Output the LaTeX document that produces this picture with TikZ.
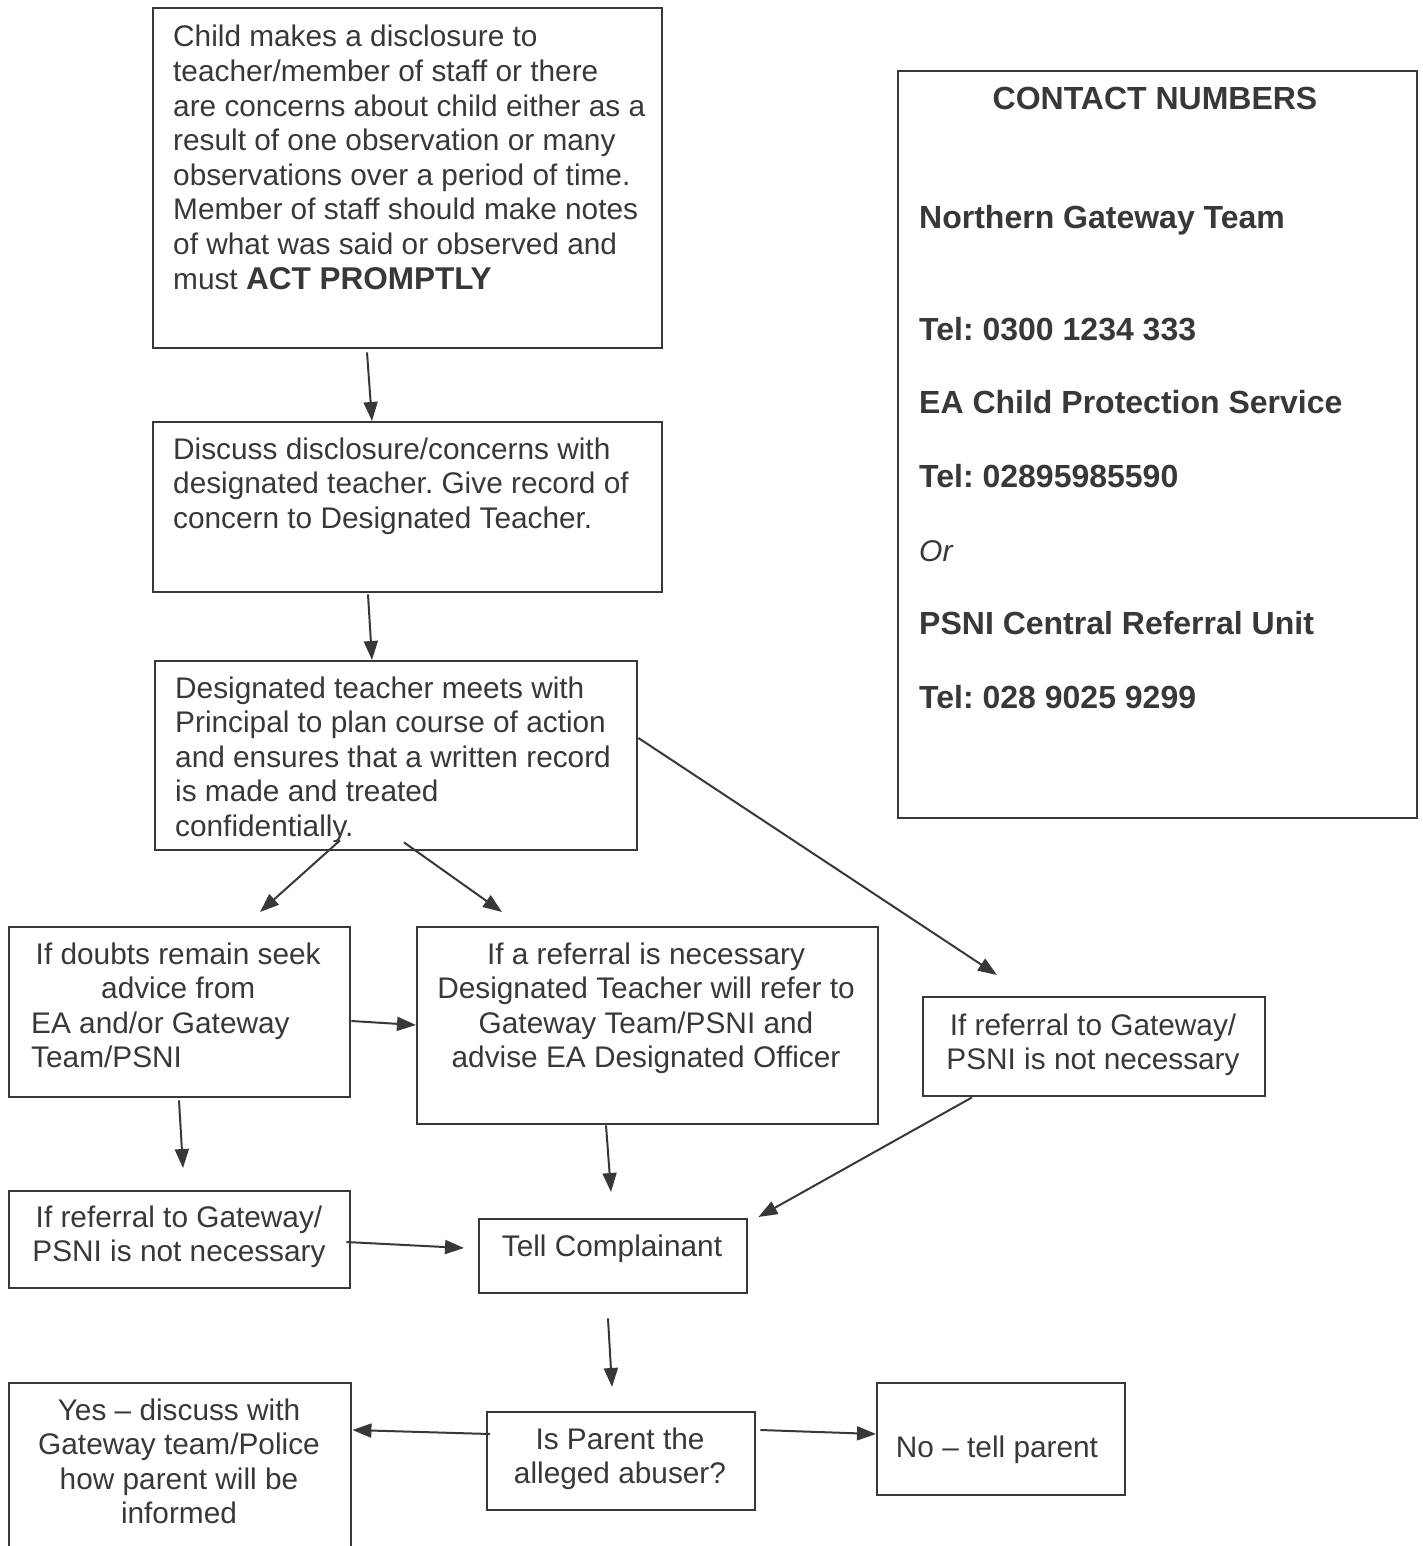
\documentclass[tikz,border=0pt]{standalone}
\usepackage{fontspec}
\setmainfont{Liberation Sans}
\usetikzlibrary{arrows.meta,calc}
\definecolor{ink}{HTML}{383838}
\frenchspacing
\tikzset{
  box/.style={draw=ink, line width=2.4pt, rectangle, inner sep=0pt, anchor=north west},
  txt/.style={inner sep=0pt, text=ink, font=\fontsize{29.8}{34.6}\selectfont\frenchspacing},
  cn/.style={inner sep=0pt, text=ink, anchor=base west, font=\fontsize{32}{36}\selectfont\bfseries\frenchspacing},
  conn/.style={draw=ink, line width=2pt, -{Triangle[length=19pt,width=14pt]}}
}
\newcommand{\lft}[2]{\parbox[t]{#1pt}{\raggedright #2}}
\newcommand{\ctr}[2]{\parbox[t]{#1pt}{\centering #2}}
\begin{document}
\begin{tikzpicture}[x=1pt,y=-1pt]
\useasboundingbox (0,0) rectangle (1422,1546);
% boxes
\node[box, minimum width=509, minimum height=340] (A) at (152,7) {};
\node[box, minimum width=509, minimum height=170] (B) at (152,421) {};
\node[box, minimum width=482, minimum height=189] (C) at (154,660) {};
\node[box, minimum width=341, minimum height=170] (D) at (8,926) {};
\node[box, minimum width=461, minimum height=197] (E) at (416,926) {};
\node[box, minimum width=342, minimum height=99] (F) at (922,996) {};
\node[box, minimum width=341, minimum height=97] (G) at (8,1190) {};
\node[box, minimum width=268, minimum height=74] (H) at (478,1218) {};
\node[box, minimum width=342, minimum height=200] (I) at (8,1382) {};
\node[box, minimum width=268, minimum height=98] (J) at (486,1411) {};
\node[box, minimum width=248, minimum height=112] (K) at (876,1382) {};
\node[box, minimum width=519, minimum height=747] (CN) at (897,70) {};
% texts
\node[txt, anchor=base west] (tA) at (173,47) {\lft{485}{Child makes a disclosure to\\
teacher/member of staff or there\\
are concerns about child either as a\\
result of one observation or many\\
observations over a period of time.\\
Member of staff should make notes\\
of what was said or observed and\\
must {\fontsize{31.5}{34.6}\selectfont\bfseries ACT PROMPTLY}}};
\node[txt, anchor=base west] (tB) at (173,459) {\lft{485}{Discuss disclosure/concerns with\\
designated teacher. Give record of\\
concern to Designated Teacher.}};
\node[txt, anchor=base west] (tC) at (175,698) {\lft{460}{Designated teacher meets with\\
Principal to plan course of action\\
and ensures that a written record\\
is made and treated\\
confidentially.}};
\node[txt, anchor=base west] (tD) at (31,964) {\parbox[t]{294pt}{\centering If doubts remain seek\\ advice from\par\raggedright EA and/or Gateway\\ Team/PSNI}};
\node[txt, anchor=base] (tE) at (646,964) {\ctr{455}{If a referral is necessary\\
Designated Teacher will refer to\\
Gateway Team/PSNI and\\
advise EA Designated Officer}};
\node[txt, anchor=base] (tF) at (1093,1035) {\ctr{335}{If referral to Gateway/\\ PSNI is not necessary}};
\node[txt, anchor=base] (tG) at (179,1227) {\ctr{335}{If referral to Gateway/\\ PSNI is not necessary}};
\node[txt, anchor=base] (tH) at (612,1256) {Tell Complainant};
\node[txt, anchor=base] (tI) at (179,1420) {\ctr{335}{Yes – discuss with\\ Gateway team/Police\\ how parent will be\\ informed}};
\node[txt, anchor=base] (tJ) at (620,1449) {\ctr{262}{Is Parent the\\ alleged abuser?}};
\node[txt, anchor=base] (tK) at (997,1457) {No – tell parent};
% contact numbers
\node[cn, anchor=base] (c0) at (1155,110) {CONTACT NUMBERS};
\node[cn] (c1) at (919,229) {Northern Gateway Team};
\node[cn] (c2) at (919,340) {Tel: 0300 1234 333};
\node[cn] (c3) at (919,413) {EA Child Protection Service};
\node[cn] (c4) at (919,487) {Tel: 02895985590};
\node[cn, font=\fontsize{30}{36}\selectfont\itshape] (c5) at (919,561) {Or};
\node[cn] (c6) at (919,634) {PSNI Central Referral Unit};
\node[cn] (c7) at (919,708) {Tel: 028 9025 9299};
% connectors
\draw[conn] ($(A.south west)+(215,3)$) -- ($(B.north west)+(220,0)$);
\draw[conn] ($(B.south west)+(216,1)$) -- ($(C.north west)+(218,0)$);
\draw[conn] ($(C.south west)+(186,-11)$) -- ($(D.north west)+(252,-14)$);
\draw[conn] ($(C.south west)+(250,-9)$) -- ($(E.north west)+(86,-14)$);
\draw[conn] ($(C.north east)+(0,78)$) -- ($(F.north west)+(75,-21)$);
\draw[conn] ($(D.north east)+(0,95)$) -- ($(E.north west)+(0,99)$);
\draw[conn] ($(D.south west)+(171,2)$) -- ($(G.north west)+(175,-22)$);
\draw[conn] ($(E.south west)+(190,0)$) -- ($(H.north west)+(133,-26)$);
\draw[conn] ($(F.south west)+(50,0)$) -- ($(H.north east)+(10,-1)$);
\draw[conn] ($(G.north east)+(-5,52)$) -- ($(H.north west)+(-14,30)$);
\draw[conn] ($(H.south west)+(130,24)$) -- ($(J.north west)+(126,-24)$);
\draw[conn] ($(J.north west)+(4,23)$) -- ($(I.north east)+(0,48)$);
\draw[conn] ($(J.north east)+(4,19)$) -- ($(K.north west)+(0,52)$);
\end{tikzpicture}
\end{document}
